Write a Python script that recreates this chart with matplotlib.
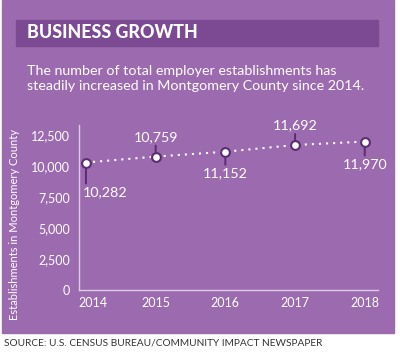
import matplotlib.pyplot as plt
from matplotlib.patches import Rectangle
from matplotlib.ticker import FuncFormatter
from matplotlib.transforms import ScaledTranslation

years = [2014, 2015, 2016, 2017, 2018]
counts = [10282, 10759, 11152, 11692, 11970]
y_ticks = [0, 2500, 5000, 7500, 10000, 12500]

# callout stem length in pixels (negative = label below)
stems = [-21, 11, -13, 11, -14]

bg = '#9c6aae'
band = '#7b4a93'
dark = '#5c2c72'
axis_col = '#dccbe6'

plt.rcParams['font.family'] = ['Lato', 'DejaVu Sans']

fig = plt.figure(figsize=(4.0, 3.55), dpi=100)
W, H = 400, 355


def fx(px):
    return px / W


def fy(py):
    return 1 - py / H


# purple panel and title band
fig.patches.append(Rectangle((fx(2), fy(333)), fx(394) - fx(2), fy(0) - fy(333),
                             transform=fig.transFigure, color=bg, zorder=-3))
fig.patches.append(Rectangle((fx(16), fy(46)), fx(378) - fx(16), fy(20) - fy(46),
                             transform=fig.transFigure, color=band, zorder=-2))

fig.text(fx(27), fy(33), 'BUSINESS GROWTH', color='white', fontsize=12.8,
         fontweight='black', va='center', ha='left')
fig.text(fx(27), fy(71), 'The number of total employer establishments has',
         color='white', fontsize=10.3, va='center', ha='left')
fig.text(fx(27), fy(86.5), 'steadily increased in Montgomery County since 2014.',
         color='white', fontsize=10.3, va='center', ha='left')
fig.text(fx(4), fy(343), 'SOURCE: U.S. CENSUS BUREAU/COMMUNITY IMPACT NEWSPAPER',
         color='#333333', fontsize=7.3, va='center', ha='left')

# axes: y-axis line at x=79, x-axis at y=290, top ~125
ax = fig.add_axes([fx(79), fy(290), fx(378) - fx(79), fy(125) - fy(290)])
ax.set_facecolor('none')
ymax = 12500 * (290 - 125) / (290 - 135)
ax.set_ylim(0, ymax)
ax.set_xlim(2013.9, 2018.19)

for s in ['top', 'right']:
    ax.spines[s].set_visible(False)
for s in ['left', 'bottom']:
    ax.spines[s].set_color(axis_col)
    ax.spines[s].set_linewidth(1)

ax.set_yticks(y_ticks)
ax.yaxis.set_major_formatter(FuncFormatter(lambda v, p: f'{int(v):,}'))
ax.set_xticks(years)
ax.tick_params(length=0, colors='white', labelsize=9)
ax.tick_params(axis='y', pad=6.5)
ax.tick_params(axis='x', pad=5)
# first year label sits a little right of its point
first = ax.get_xticklabels()[0]
first.set_transform(first.get_transform() +
                    ScaledTranslation(0.07, 0, fig.dpi_scale_trans))
ax.set_ylabel('Establishments in Montgomery County', color='white',
              fontsize=8)
ax.yaxis.set_label_coords(-(79 - 20) / (378 - 79), (290 - 225) / 165)

ax.plot(years, counts, color='white', linestyle=(0, (1, 2.4)), linewidth=1.5,
        zorder=2)
for i, (x, y, st) in enumerate(zip(years, counts, stems)):
    d = st * 0.72
    ax.annotate('', xy=(x, y), xytext=(0, d), textcoords='offset points',
                arrowprops=dict(arrowstyle='-', color=dark, lw=1.4,
                                shrinkA=0, shrinkB=0), zorder=2)
    ha = 'left' if i == 0 else 'center'
    dx = -2 if i == 0 else 0
    ax.annotate(f'{y:,}', xy=(x, y), xytext=(dx, d + (2 if st > 0 else -2)),
                textcoords='offset points', color='white', fontsize=10.3,
                ha=ha, va='bottom' if st > 0 else 'top')
ax.scatter(years, counts, s=40, color='white', edgecolor=dark, linewidth=1.5,
           zorder=3, clip_on=False)

fig.savefig('out.png', dpi=100)
